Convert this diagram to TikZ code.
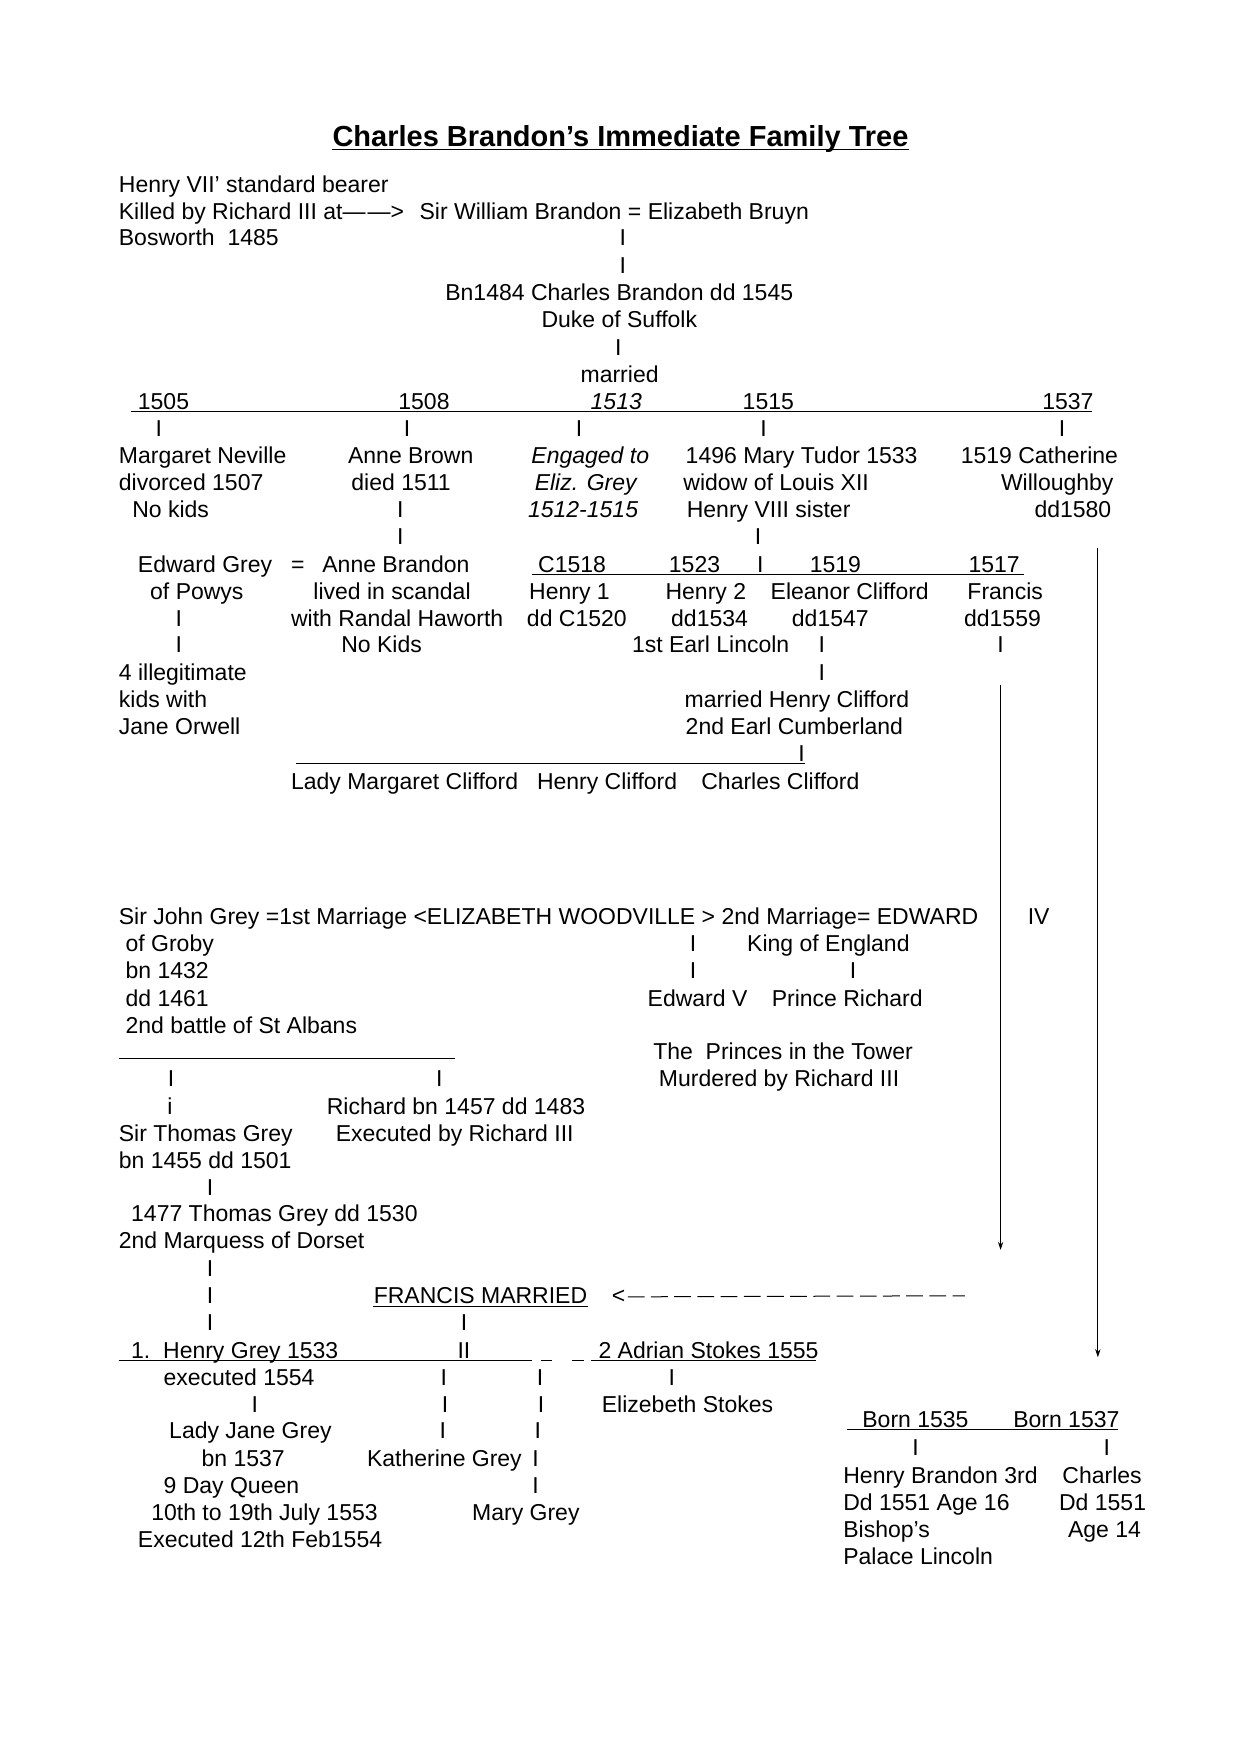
\documentclass[tikz,border=0pt]{standalone}
\usepackage{fontspec}
\setmainfont{Liberation Sans}
\usetikzlibrary{arrows.meta}

\begin{document}
\begin{tikzpicture}[x=0.559pt,y=-0.559pt,
    txt/.style={anchor=base west,inner sep=0pt,yshift=-3.9pt,font=\fontsize{11.5}{13.4}\selectfont},
    itx/.style={txt,font=\fontsize{11.5}{13.4}\selectfont\itshape},
    bar/.style={anchor=base,inner sep=0pt,yshift=-3.9pt,font=\fontsize{11.5}{13.4}\selectfont},
    uline/.style={line width=0.5pt},
    down/.style={line width=0.5pt,-{Stealth[length=4pt,width=2.6pt]}}
  ]
  \useasboundingbox[fill=white] (0,0) rectangle (1109,1568);
  % Title
  \node[anchor=base,inner sep=0pt,font=\fontsize{14.5}{17}\selectfont\bfseries] (title) at (555,131) {Charles Brandon’s Immediate Family Tree};
  \draw[uline] ([yshift=-1.5pt]title.base west) -- ([yshift=-1.5pt]title.base east);
  % Parents
  \node[txt] (bearer) at (106,165) {Henry VII’ standard bearer};
  \node[txt] (killed) at (106,189) {Killed by Richard III at—\kern1pt—>};
  \node[txt] (bosworth) at (106,213) {Bosworth\ \ 1485};
  \node[txt] (william) at (375,189) {Sir William Brandon = Elizabeth Bruyn};
  \node[bar] (w1) at (557,213) {I};
  \node[bar] (w2) at (557,238) {I};
  \node[txt] (charles) at (398,262) {Bn1484 Charles Brandon dd 1545};
  \node[txt] (duke) at (484,286) {Duke of Suffolk};
  \node[bar] (c1) at (553,311) {I};
  \node[txt] (married) at (519,335) {married};
  % Marriages line
  \node[txt] (y1505) at (123,359) {1505};
  \node[txt] (y1508) at (356,359) {1508};
  \node[itx] (y1513) at (528,359) {1513};
  \node[txt] (y1515) at (664,359) {1515};
  \node[txt] (y1537) at (932,359) {1537};
  \coordinate (tlA) at (117,368); \coordinate (tlB) at (977,368);
  \draw[uline] (tlA) -- (tlB);
  \node[bar] (t1) at (142,383) {I};
  \node[bar] (t2) at (364,383) {I};
  \node[bar] (t3) at (518,383) {I};
  \node[bar] (t4) at (683,383) {I};
  \node[bar] (t5) at (950,383) {I};
  % Wives
  \node[txt] (neville) at (106,408) {Margaret Neville};
  \node[txt] (divorced) at (106,432) {divorced 1507};
  \node[txt] (nokids) at (118,456) {No kids};
  \node[txt] (brown) at (311,408) {Anne Brown};
  \node[txt] (died) at (314,432) {died 1511};
  \node[bar] (a1) at (358,456) {I};
  \node[bar] (a2) at (358,480) {I};
  \node[itx] (engaged) at (475,408) {Engaged to};
  \node[itx] (eliz) at (478,432) {Eliz. Grey};
  \node[itx] (years) at (472,456) {1512-1515};
  \node[txt] (tudor) at (613,408) {1496 Mary Tudor 1533};
  \node[txt] (widow) at (611,432) {widow of Louis XII};
  \node[txt] (sister) at (614,456) {Henry VIII sister};
  \node[bar] (m1) at (678,480) {I};
  \node[txt] (cath) at (859,408) {1519 Catherine};
  \node[txt] (willo) at (895,432) {Willoughby};
  \node[txt] (dd1580) at (925,456) {dd1580};
  % Anne Brown's daughter
  \node[txt] (edgrey) at (123,505) {Edward Grey};
  \node[txt] (eq) at (260,505) {=};
  \node[txt] (anneb) at (288,505) {Anne Brandon};
  \node[txt] (powys) at (134,529) {of Powys};
  \node[txt] (scandal) at (280,529) {lived in scandal};
  \node[txt] (haworth) at (260,553) {with Randal Haworth};
  \node[txt] (nokids2) at (305,577) {No Kids};
  \node[bar] (e1) at (160,553) {I};
  \node[bar] (e2) at (160,577) {I};
  \node[txt] (illeg) at (106,602) {4 illegitimate};
  \node[txt] (kidswith) at (106,626) {kids with};
  \node[txt] (orwell) at (106,650) {Jane Orwell};
  % Mary Tudor's children
  \node[txt] (c1518) at (481,505) {C1518};
  \node[txt] (c1523) at (598,505) {1523};
  \node[bar] (m2) at (680,505) {I};
  \node[txt] (c1519) at (724,505) {1519};
  \node[txt] (c1517) at (866,505) {1517};
  \coordinate (kA) at (476,514); \coordinate (kB) at (916,514);
  \draw[uline] (kA) -- (kB);
  \node[txt] (henry1) at (473,529) {Henry 1};
  \node[txt] (henry1d) at (471,553) {dd C1520};
  \node[txt] (henry2) at (595,529) {Henry 2};
  \node[txt] (henry2d) at (600,553) {dd1534};
  \node[txt] (lincoln) at (565,577) {1st Earl Lincoln};
  \node[txt] (eleanor) at (689,529) {Eleanor Clifford};
  \node[txt] (eleanord) at (708,553) {dd1547};
  \node[bar] (l1) at (735,577) {I};
  \node[bar] (l2) at (735,602) {I};
  \node[txt] (francis) at (865,529) {Francis};
  \node[txt] (francisd) at (862,553) {dd1559};
  \node[bar] (f1) at (895,577) {I};
  % Clifford children
  \node[txt] (mhc) at (612,626) {married Henry Clifford};
  \node[txt] (cumb) at (613,650) {2nd Earl Cumberland};
  \node[bar] (cl1) at (717,674) {I};
  \coordinate (clA) at (265,683); \coordinate (clB) at (720,683);
  \draw[uline] (clA) -- (clB);
  \node[txt] (ladym) at (260,699) {Lady Margaret Clifford};
  \node[txt] (henryc) at (480,699) {Henry Clifford};
  \node[txt] (charlesc) at (627,699) {Charles Clifford};
  % Long arrows down
  \coordinate (fr1) at (895,613); \coordinate (fr2) at (895,1118);
  \draw[down] (fr1) -- (fr2);
  \coordinate (ca1) at (982,490); \coordinate (ca2) at (982,1214);
  \draw[down] (ca1) -- (ca2);
  % Woodville
  \node[txt] (johngrey) at (106,820) {Sir John Grey =1st Marriage <ELIZABETH WOODVILLE > 2nd Marriage= EDWARD};
  \node[txt] (iv) at (919,820) {IV};
  \node[txt] (groby) at (112,844) {of Groby};
  \node[txt] (bn1432) at (112,868) {bn 1432};
  \node[txt] (dd1461) at (112,893) {dd 1461};
  \node[txt] (albans) at (112,917) {2nd battle of St Albans};
  \node[bar] (k1) at (620,844) {I};
  \node[bar] (k2) at (620,868) {I};
  \node[txt] (king) at (668,844) {King of England};
  \node[bar] (k3) at (763,868) {I};
  \node[txt] (edv) at (579,893) {Edward V};
  \node[txt] (prich) at (690,893) {Prince Richard};
  \node[txt] (princes) at (584,941) {The\ \ Princes in the Tower};
  \node[txt] (murdered) at (589,965) {Murdered by Richard III};
  \coordinate (gA) at (106,947); \coordinate (gB) at (407,947);
  \draw[uline] (gA) -- (gB);
  \node[bar] (g1) at (153,965) {I};
  \node[bar] (g2) at (393,965) {I};
  \node[bar] (g3) at (152,990) {i};
  \node[txt] (richard) at (292,990) {Richard bn 1457 dd 1483};
  \node[txt] (thomas) at (106,1014) {Sir Thomas Grey};
  \node[txt] (execr) at (300,1014) {Executed by Richard III};
  \node[txt] (bn1455) at (106,1038) {bn 1455 dd 1501};
  \node[bar] (g4) at (188,1062) {I};
  \node[txt] (thomas2) at (117,1086) {1477 Thomas Grey dd 1530};
  \node[txt] (dorset) at (106,1110) {2nd Marquess of Dorset};
  \node[bar] (g5) at (188,1135) {I};
  \node[bar] (g6) at (188,1159) {I};
  \node[bar] (g7) at (188,1183) {I};
  % Francis married
  \node[txt] (fmarried) at (334,1159) {FRANCIS MARRIED};
  \draw[uline] ([yshift=-1.5pt]fmarried.base west) -- ([yshift=-1.5pt]fmarried.base east);
  \node[txt] (lt) at (547,1159) {<};
  \coordinate (dashend) at (863,1159);
  \draw[uline,dash pattern=on 8.4pt off 3.2pt] ([xshift=1pt]lt.east) -- (dashend);
  \node[bar] (h0) at (415,1183) {I};
  \node[txt] (hgrey) at (117,1208) {1.\ \ Henry Grey 1533};
  \node[bar] (ii) at (415,1208) {II};
  \node[txt] (stokes) at (535,1208) {2 Adrian Stokes 1555};
  \coordinate (hA) at (106,1217); \coordinate (hB) at (476,1217);
  \coordinate (hC) at (484,1217); \coordinate (hD) at (494,1217);
  \coordinate (hE) at (512,1217); \coordinate (hF) at (522,1217);
  \coordinate (hG) at (529,1217); \coordinate (hH) at (730,1217);
  \draw[uline] (hA) -- (hB) (hC) -- (hD) (hE) -- (hF) (hG) -- (hH);
  % Grey daughters
  \node[txt] (exec1554) at (146,1232) {executed 1554};
  \node[bar] (d1) at (397,1232) {I};
  \node[bar] (d2) at (483,1232) {I};
  \node[bar] (d3) at (601,1232) {I};
  \node[bar] (d4) at (228,1256) {I};
  \node[bar] (d5) at (398,1256) {I};
  \node[bar] (d6) at (484,1256) {I};
  \node[txt] (estokes) at (538,1256) {Elizebeth Stokes};
  \node[txt] (ljg) at (151,1280) {Lady Jane Grey};
  \node[bar] (d7) at (396,1280) {I};
  \node[bar] (d8) at (481,1280) {I};
  \node[txt] (bn1537) at (180,1305) {bn 1537};
  \node[txt] (kgrey) at (328,1305) {Katherine Grey};
  \node[bar] (d9) at (479,1305) {I};
  \node[txt] (dayq) at (146,1329) {9 Day Queen};
  \node[bar] (d10) at (479,1329) {I};
  \node[txt] (july) at (135,1353) {10th to 19th July 1553};
  \node[txt] (mgrey) at (422,1353) {Mary Grey};
  \node[txt] (exfeb) at (123,1377) {Executed 12th Feb1554};
  % Catherine's sons
  \node[txt] (b1535) at (771,1270) {Born 1535};
  \node[txt] (b1537) at (906,1270) {Born 1537};
  \coordinate (sA) at (758,1279); \coordinate (sB) at (1000,1279);
  \draw[uline] (sA) -- (sB);
  \node[bar] (s1) at (819,1295) {I};
  \node[bar] (s2) at (990,1295) {I};
  \node[txt] (hb3) at (754,1320) {Henry Brandon 3rd};
  \node[txt] (hbd) at (754,1344) {Dd 1551 Age 16};
  \node[txt] (bishop) at (754,1368) {Bishop’s};
  \node[txt] (palace) at (754,1392) {Palace Lincoln};
  \node[txt] (chb) at (950,1320) {Charles};
  \node[txt] (chbd) at (947,1344) {Dd 1551};
  \node[txt] (age14) at (955,1368) {Age 14};
\end{tikzpicture}
\end{document}
